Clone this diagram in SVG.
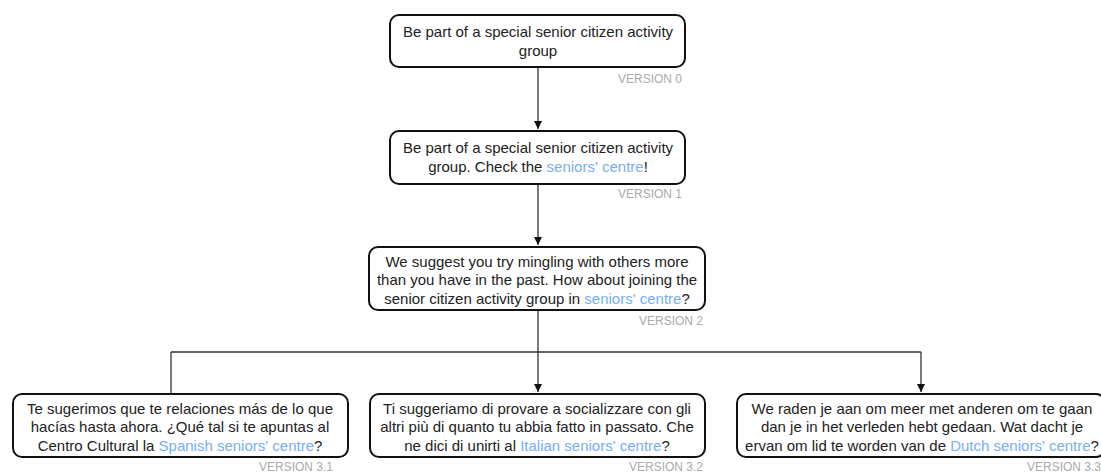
<svg xmlns="http://www.w3.org/2000/svg" width="1101" height="473" viewBox="0 0 1101 473">
<style>
.box{fill:#fff;stroke:#111;stroke-width:2}
.t{font-family:"Liberation Sans",Arial,sans-serif;font-size:15px;fill:#222;text-anchor:middle}
.v{font-family:"Liberation Sans",Arial,sans-serif;font-size:12px;fill:#aaa;text-anchor:end}
.l{fill:#78aef5}
.c{fill:none;stroke:#333;stroke-width:1.3}
</style>
<defs>
<marker id="ah" viewBox="0 0 10 10" refX="10" refY="5" markerWidth="8" markerHeight="8" markerUnits="userSpaceOnUse" orient="auto">
<path d="M0,0 L10,5 L0,10 z" fill="#111"/>
</marker>
</defs>
<g id="connectors">
<path class="c" d="M538,68 V129" marker-end="url(#ah)"/>
<path class="c" d="M538,185 V245" marker-end="url(#ah)"/>
<path class="c" d="M538,311 V392" marker-end="url(#ah)"/>
<path class="c" d="M171,352 H921"/>
<path class="c" d="M171,352 V401" marker-end="url(#ah)"/>
<path class="c" d="M921,352 V392" marker-end="url(#ah)"/>
</g>
<g id="v0">
<rect class="box" x="390" y="15" width="295" height="52" rx="9"/>
<text class="t" x="538" y="37">Be part of a special senior citizen activity</text>
<text class="t" x="538" y="56">group</text>
<text class="v" x="682" y="83">VERSION 0</text>
</g>
<g id="v1">
<rect class="box" x="390" y="131" width="295" height="53" rx="9"/>
<text class="t" x="538" y="153">Be part of a special senior citizen activity</text>
<text class="t" x="538" y="172">group. Check the <tspan class="l">seniors' centre</tspan>!</text>
<text class="v" x="682" y="198">VERSION 1</text>
</g>
<g id="v2">
<rect class="box" x="369" y="247" width="336" height="63" rx="9"/>
<text class="t" x="537" y="267">We suggest you try mingling with others more</text>
<text class="t" x="537" y="285">than you have in the past. How about joining the</text>
<text class="t" x="537" y="304">senior citizen activity group in <tspan class="l">seniors' centre</tspan>?</text>
<text class="v" x="703" y="325">VERSION 2</text>
</g>
<g id="v31">
<rect class="box" x="13" y="394" width="335" height="63" rx="9"/>
<text class="t" x="180" y="414">Te sugerimos que te relaciones más de lo que</text>
<text class="t" x="180" y="432">hacías hasta ahora. ¿Qué tal si te apuntas al</text>
<text class="t" x="180" y="451">Centro Cultural la <tspan class="l">Spanish seniors' centre</tspan>?</text>
<text class="v" x="333" y="471">VERSION 3.1</text>
</g>
<g id="v32">
<rect class="box" x="370" y="394" width="335" height="63" rx="9"/>
<text class="t" x="537" y="414">Ti suggeriamo di provare a socializzare con gli</text>
<text class="t" x="537" y="432">altri più di quanto tu abbia fatto in passato. Che</text>
<text class="t" x="537" y="451">ne dici di unirti al <tspan class="l">Italian seniors' centre</tspan>?</text>
<text class="v" x="703" y="471">VERSION 3.2</text>
</g>
<g id="v33">
<rect class="box" x="737" y="394" width="368" height="63" rx="9"/>
<text class="t" x="922" y="414">We raden je aan om meer met anderen om te gaan</text>
<text class="t" x="922" y="432">dan je in het verleden hebt gedaan. Wat dacht je</text>
<text class="t" x="922" y="451">ervan om lid te worden van de <tspan class="l">Dutch seniors' centre</tspan>?</text>
<text class="v" x="1101" y="471">VERSION 3.3</text>
</g>
</svg>
